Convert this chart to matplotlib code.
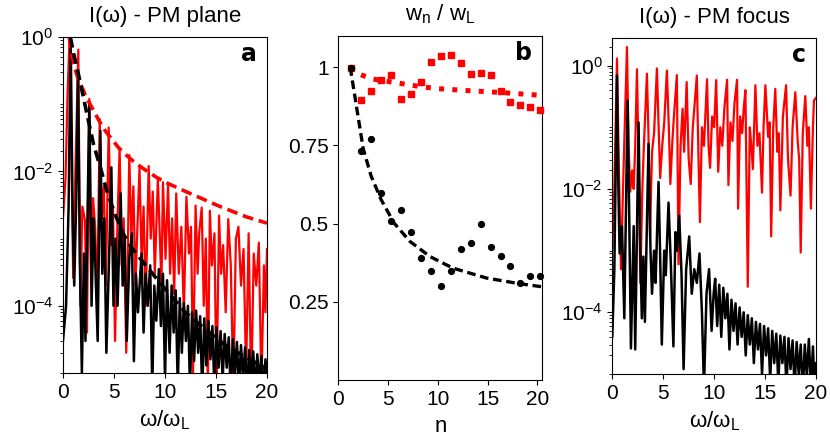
import matplotlib
matplotlib.use("Agg")
import matplotlib.pyplot as plt
from matplotlib.ticker import LogLocator, NullFormatter, FixedLocator

plt.rcParams['font.family'] = ['Liberation Sans', 'DejaVu Sans']
plt.rcParams['mathtext.fontset'] = 'custom'
plt.rcParams['mathtext.rm'] = 'Liberation Sans'
plt.rcParams['mathtext.it'] = 'Liberation Sans:italic'
plt.rcParams['mathtext.bf'] = 'Liberation Sans:bold'
plt.rcParams['mathtext.default'] = 'regular'

# ---------------- panel a : I(w) PM plane ----------------
red_a_x = [0.0, 0.25, 0.45, 0.65, 0.85, 1.0, 1.2, 1.5, 1.7, 1.9,
           2.15, 2.35, 2.58, 2.75, 2.95, 3.15, 3.35, 3.6, 3.8, 4.0,
           4.2, 4.48, 4.7, 4.9, 5.1, 5.35, 5.55, 5.75, 5.95, 6.2,
           6.5, 6.7, 6.9, 7.1, 7.5, 7.7, 7.9, 8.1, 8.4, 8.6,
           8.8, 9.0, 9.3, 9.5, 9.65, 9.8, 10.05, 10.3, 10.5, 10.7,
           10.9, 11.1, 11.35, 11.6, 11.85, 12.1, 12.35, 12.55, 12.75, 13.0,
           13.2, 13.35, 13.6, 13.8, 14.0, 14.2, 14.4, 14.6, 14.85, 15.05,
           15.3, 15.5, 15.7, 15.95, 16.2, 16.45, 16.7, 16.95, 17.2, 17.45,
           17.7, 17.95, 18.2, 18.45, 18.7, 18.95, 19.2, 19.45, 19.7, 19.85,
           20.0]
red_a_y = [2e-3, 8e-3, 0.15, 1.0, 1e-2, 2.6e-4, 8e-3, 0.65, 1e-4, 3e-3,
           1.9e-3, 4e-5, 0.12, 3e-4, 4e-3, 1.5e-3, 1e-4, 0.06, 2e-3, 6e-3,
           2e-4, 0.045, 8e-4, 3e-3, 3e-5, 2e-3, 0.022, 4e-4, 2e-3, 2e-5,
           0.0175, 1e-3, 6e-3, 2e-4, 0.0115, 5e-4, 3e-3, 1e-4, 0.012, 1e-3,
           5e-3, 3e-4, 0.0078, 1e-3, 2e-4, 0.0069, 5e-4, 0.0062, 3e-4, 2e-3,
           1.5e-4, 0.0047, 3e-4, 1.5e-3, 8e-5, 0.0042, 6e-4, 1.5e-3, 1e-5, 0.0031,
           3e-4, 1.2e-3, 0.0029, 1e-4, 1e-3, 6e-6, 0.0026, 4e-4, 1.2e-3, 5e-6,
           0.0022, 3e-4, 8e-4, 8e-5, 0.00195, 4e-4, 6e-6, 1e-3, 0.0015, 2e-4,
           7e-4, 1e-5, 0.0012, 5e-6, 6e-4, 2e-4, 8.7e-4, 6e-6, 4e-4, 8e-5,
           7e-4]

black_a_x = [0.0, 0.3, 0.55, 0.75, 0.95, 1.1, 1.3, 1.47, 1.65, 1.85,
             2.05, 2.2, 2.4, 2.58, 2.8, 3.0, 3.15, 3.4, 3.66, 3.85,
             4.05, 4.25, 4.5, 4.74, 4.95, 5.15, 5.35, 5.65, 5.85, 6.05,
             6.25, 6.5, 6.75, 6.95, 7.15, 7.35, 7.7, 7.9, 8.1, 8.3,
             8.55, 8.75, 8.95, 9.15, 9.4, 9.6, 9.8, 10.0, 10.2, 10.45,
             10.65, 10.85, 11.05, 11.25, 11.45, 11.65, 11.85, 12.05, 12.25, 12.45,
             12.65, 12.85, 13.05, 13.25, 13.45, 13.65, 13.85, 14.05, 14.25, 14.45,
             14.65, 14.85, 15.05, 15.25, 15.45, 15.65, 15.85, 16.05, 16.25, 16.45,
             16.65, 16.85, 17.05, 17.25, 17.45, 17.65, 17.85, 18.05, 18.25, 18.45,
             18.65, 18.85, 19.05, 19.25, 19.45, 19.65, 19.85, 20.0]
black_a_y = [3e-5, 1e-4, 3e-3, 1.0, 2e-3, 2e-4, 4e-3, 0.3, 5e-4, 1e-5,
             6e-4, 3e-5, 2e-3, 0.11, 1e-4, 2e-3, 5e-4, 3e-5, 0.04, 3e-4,
             2e-3, 2e-5, 4e-4, 0.0115, 1e-4, 1e-3, 1e-4, 4.7e-3, 2e-4, 1e-3,
             3e-5, 5e-4, 1.2e-3, 1.5e-5, 3e-4, 8e-5, 6e-4, 4e-5, 3e-4, 1e-4,
             4e-4, 6e-6, 2e-4, 6e-5, 3.5e-4, 5e-5, 3e-4, 8e-6, 2.4e-4, 2e-5,
             2e-4, 4e-5, 1.7e-4, 6e-6, 1.3e-4, 2e-5, 1.1e-4, 3e-5, 1e-4, 6e-6,
             8e-5, 1.5e-5, 8.5e-5, 2e-5, 7e-5, 5e-6, 6.5e-5, 1.3e-5, 6e-5, 1.6e-5,
             5e-5, 5e-6, 4.8e-5, 1.2e-5, 4.2e-5, 8e-6, 3.8e-5, 1.2e-5, 3.4e-5, 5e-6,
             3.2e-5, 9e-6, 2.9e-5, 6e-6, 2.6e-5, 8e-6, 2.4e-5, 5e-6, 2.2e-5, 7e-6,
             2.1e-5, 5e-6, 1.9e-5, 7e-6, 1.8e-5, 5e-6, 1.6e-5, 8e-6]

red_a_env_x = [0.62, 0.8, 1.05, 1.4, 1.86, 2.3, 2.84, 3.5, 4.15, 4.8,
               5.46, 6.2, 6.9, 7.8, 9.2, 10.3, 12.45, 15.4, 18.0, 20.0]
red_a_env_y = [1.0, 0.6, 0.40, 0.26, 0.178, 0.125, 0.089, 0.058, 0.040, 0.030,
               0.0224, 0.0175, 0.0141, 0.0112, 0.0081, 0.0066, 0.0047, 0.0030, 0.0021, 0.0017]

black_a_env_x = [0.72, 1.05, 1.37, 1.86, 2.35, 3.0, 3.66, 4.3, 5.1, 5.95,
                 6.76, 8.0, 9.4, 12.0, 14.1, 16.05, 18.3, 20.0]
black_a_env_y = [1.0, 0.56, 0.35, 0.16, 0.071, 0.025, 0.0115, 5.1e-3, 2.3e-3, 1.15e-3,
                 7.2e-4, 4.2e-4, 2.3e-4, 7.9e-5, 4.3e-5, 2.5e-5, 1.6e-5, 1.15e-5]

# ---------------- panel b : w_n / w_L ----------------
n_vals = [1.3, 2.3, 3.3, 4.3, 5.3, 6.3, 7.3, 8.3, 9.3, 10.3,
          11.3, 12.3, 13.3, 14.3, 15.3, 16.3, 17.3, 18.3, 19.3, 20.3]
red_b = [0.997, 0.895, 0.924, 0.96, 0.975, 0.90, 0.913, 0.954, 1.018, 1.036,
         1.04, 1.013, 0.98, 0.983, 0.974, 0.924, 0.889, 0.878, 0.874, 0.863]
black_b = [0.997, 0.732, 0.771, 0.598, 0.507, 0.545, 0.473, 0.39, 0.347, 0.302,
           0.347, 0.42, 0.438, 0.50, 0.425, 0.397, 0.363, 0.31, 0.333, 0.334]
red_fit_x = [1.2, 2.0, 3.2, 4.5, 6.5, 8.5, 9.9, 13.2, 16.5, 20.5]
red_fit_y = [1.0, 0.98, 0.964, 0.957, 0.947, 0.937, 0.932, 0.925, 0.919, 0.91]
black_fit_x = [1.2, 1.6, 2.0, 2.5, 3.3, 4.3, 5.6, 7.2, 9.2, 11.5, 14.9, 18.2, 20.5]
black_fit_y = [1.0, 0.92, 0.84, 0.74, 0.652, 0.577, 0.502, 0.443, 0.395, 0.358, 0.326, 0.308, 0.298]
b_yticks = [0.25, 0.5, 0.75, 1.0]
b_yticklabels = ['0.25', '0.5', '0.75', '1']

# ---------------- panel c : I(w) PM focus ----------------
red_c_x = [0.0, 0.2, 0.46, 0.65, 0.85, 1.1, 1.44, 1.6, 1.76, 1.95,
           2.1, 2.25, 2.42, 2.6, 2.75, 2.95, 3.1, 3.4, 3.55, 3.7,
           3.9, 4.1, 4.38, 4.55, 4.7, 4.9, 5.1, 5.36, 5.55, 5.7,
           5.9, 6.05, 6.34, 6.5, 6.7, 6.9, 7.05, 7.3, 7.5, 7.7,
           7.9, 8.05, 8.3, 8.45, 8.6, 8.8, 9.0, 9.3, 9.45, 9.6,
           9.8, 10.0, 10.2, 10.4, 10.6, 10.8, 11.0, 11.27, 11.4, 11.6,
           11.8, 12.0, 12.25, 12.35, 12.55, 12.75, 12.9, 13.07, 13.3, 13.5,
           13.65, 13.8, 14.05, 14.25, 14.45, 14.7, 14.85, 15.03, 15.3, 15.45,
           15.6, 15.8, 16.0, 16.2, 16.35, 16.5, 16.75, 17.06, 17.25, 17.5,
           17.7, 17.97, 18.2, 18.35, 18.5, 18.7, 18.95, 19.15, 19.3, 19.5,
           19.7, 19.8, 20.0]
red_c_y = [1.1e-3, 1e-2, 1.3, 0.02, 5e-4, 0.02, 2.0, 0.05, 9e-3, 0.02,
           1e-2, 0.05, 0.87, 0.02, 3e-4, 0.01, 0.05, 0.74, 0.08, 1.6e-3,
           0.04, 0.08, 0.9, 0.1, 0.015, 0.05, 0.12, 0.83, 0.1, 0.012,
           0.06, 0.15, 0.7, 6e-4, 0.05, 0.2, 0.04, 0.54, 0.03, 0.012,
           0.1, 0.2, 0.69, 0.04, 2.9e-3, 0.1, 0.05, 0.6, 0.05, 0.022,
           0.15, 0.1, 0.58, 0.019, 0.1, 0.05, 0.2, 0.59, 0.0115, 0.12,
           0.06, 0.25, 0.59, 4.8e-3, 0.15, 0.08, 0.2, 0.4, 2.6e-4, 0.1,
           0.05, 0.021, 0.48, 0.05, 0.08, 8.7e-3, 0.1, 0.48, 0.07, 0.12,
           1.7e-3, 0.1, 0.42, 0.04, 0.08, 4.5e-3, 0.15, 0.48, 0.03, 7.8e-3,
           0.1, 0.37, 0.06, 0.03, 9.3e-4, 0.08, 0.32, 0.05, 0.1, 4.8e-3,
           0.1, 0.27, 0.3]

black_c_x = [0.0, 0.2, 0.46, 0.6, 0.72, 0.95, 1.18, 1.5, 1.65, 1.83,
             2.1, 2.25, 2.58, 2.75, 2.9, 3.05, 3.2, 3.56, 3.75, 3.9,
             4.1, 4.25, 4.54, 4.7, 4.86, 5.1, 5.25, 5.52, 5.75, 6.0,
             6.2, 6.35, 6.57, 6.8, 7.0, 7.25, 7.55, 7.8, 8.05, 8.3,
             8.56, 8.8, 9.0, 9.25, 9.5, 9.75, 9.95, 10.1, 10.3, 10.5,
             10.7, 10.9, 11.1, 11.3, 11.5, 11.7, 11.9, 12.1, 12.3, 12.5,
             12.7, 12.9, 13.1, 13.3, 13.5, 13.7, 13.9, 14.1, 14.3, 14.5,
             14.7, 14.9, 15.1, 15.3, 15.5, 15.7, 15.9, 16.1, 16.3, 16.5,
             16.7, 16.9, 17.1, 17.3, 17.5, 17.7, 17.9, 18.1, 18.3, 18.5,
             18.7, 18.9, 19.1, 19.3, 19.5, 19.7, 19.85, 20.0]
black_c_y = [4e-5, 5e-4, 0.69, 0.01, 9e-4, 2.5e-3, 8e-5, 0.27, 5e-3, 2.6e-5,
             2.5e-3, 2.5e-5, 0.12, 1e-3, 8e-5, 8e-4, 7e-5, 0.054, 1e-3, 2e-4,
             1e-3, 3e-4, 0.013, 8e-4, 3e-5, 1e-3, 4e-4, 6e-3, 6e-4, 2.8e-5,
             2e-3, 1e-3, 3.7e-3, 4e-4, 1.2e-5, 5e-4, 1.7e-3, 2e-4, 5e-4, 3e-4,
             9e-4, 1e-4, 6e-6, 2e-4, 5e-4, 5e-5, 2e-4, 3.5e-4, 6e-5, 2.8e-4,
             4e-5, 2.5e-4, 8e-5, 2e-4, 2.5e-5, 1.6e-4, 5e-5, 1.4e-4, 3e-5, 1.2e-4,
             4e-5, 1e-4, 2e-5, 9e-5, 3e-5, 8e-5, 1.5e-5, 7e-5, 2.5e-5, 6.5e-5,
             1e-5, 6e-5, 2e-5, 5.5e-5, 8e-6, 5e-5, 1.5e-5, 4.5e-5, 7e-6, 4.2e-5,
             1.5e-5, 4e-5, 6e-6, 3.8e-5, 1.2e-5, 3.5e-5, 6e-6, 3.3e-5, 1e-5, 3e-5,
             5e-6, 3e-5, 9e-6, 3.7e-5, 6e-6, 2.8e-5, 6e-6, 1.5e-5]

titles = ['I(ω) - PM plane', '$w_n$ / $w_L$', 'I(ω) - PM focus']
panel_tags = ['a', 'b', 'c']
xlabels = [r'$\omega/\omega_L$', 'n', r'$\omega/\omega_L$']

RED = '#ff0000'
BLK = '#000000'

fig = plt.figure(figsize=(8.3, 4.38), dpi=100)
W = 204 / 830
ax_a = fig.add_axes([63 / 830, 1 - 373 / 438, W, 336 / 438])
ax_b = fig.add_axes([338.3 / 830, 1 - 380 / 438, W, 344 / 438])
ax_c = fig.add_axes([612.3 / 830, 1 - 374 / 438, 203.7 / 830, 336 / 438])

TICK_FS = 15
LBL_FS = 16


def style_log(ax, ymax):
    ax.set_yscale('log')
    ax.set_ylim(1e-5, ymax)
    ax.yaxis.set_major_locator(FixedLocator([1e-4, 1e-2, 1e0]))
    ax.yaxis.set_minor_locator(LogLocator(base=10, subs=tuple(range(1, 10)), numticks=30))
    ax.yaxis.set_minor_formatter(NullFormatter())


# panel a
ax_a.plot(red_a_x, red_a_y, color=RED, lw=1.6, zorder=2)
ax_a.plot(black_a_x, black_a_y, color=BLK, lw=1.8, zorder=3)
ax_a.plot(red_a_env_x, red_a_env_y, color=RED, lw=2.6, dashes=(3.0, 1.6), zorder=4)
ax_a.plot(black_a_env_x, black_a_env_y, color=BLK, lw=2.6, dashes=(3.0, 1.6), zorder=4)
style_log(ax_a, 1.0)
ax_a.set_xlim(0, 20)

# panel b
ax_b.plot(red_fit_x, red_fit_y, color=RED, lw=3.6, ls=':', zorder=2)
ax_b.plot(black_fit_x, black_fit_y, color=BLK, lw=2.4, dashes=(2.6, 1.4), zorder=3)
ax_b.plot(n_vals, red_b, ls='none', marker='s', ms=4.5, color=RED, zorder=4, clip_on=False)
ax_b.plot(n_vals, black_b, ls='none', marker='o', ms=4.2, color=BLK, zorder=5, clip_on=False)
ax_b.set_xlim(0, 20.5)
ax_b.set_ylim(0, 1.1)
ax_b.set_yticks(b_yticks)
ax_b.set_yticklabels(b_yticklabels)

# panel c
ax_c.plot(red_c_x, red_c_y, color=RED, lw=1.6, zorder=2)
ax_c.plot(black_c_x, black_c_y, color=BLK, lw=1.8, zorder=3)
style_log(ax_c, 2.8)
ax_c.set_xlim(0, 20)

for ax, t, tag, xl in zip([ax_a, ax_b, ax_c], titles, panel_tags, xlabels):
    ax.set_xticks([0, 5, 10, 15, 20])
    ax.tick_params(labelsize=TICK_FS, width=0.8)
    ax.set_title(t, fontsize=LBL_FS, pad=11)
    ax.set_xlabel(xl, fontsize=LBL_FS, labelpad=5)
    for s in ax.spines.values():
        s.set_linewidth(0.8)
    ax.text(1 - 10 / 204, 0.929, tag, transform=ax.transAxes, ha='right', va='baseline',
            fontsize=17, fontweight='bold', family='DejaVu Sans')

fig.savefig('out.png', dpi=100)
